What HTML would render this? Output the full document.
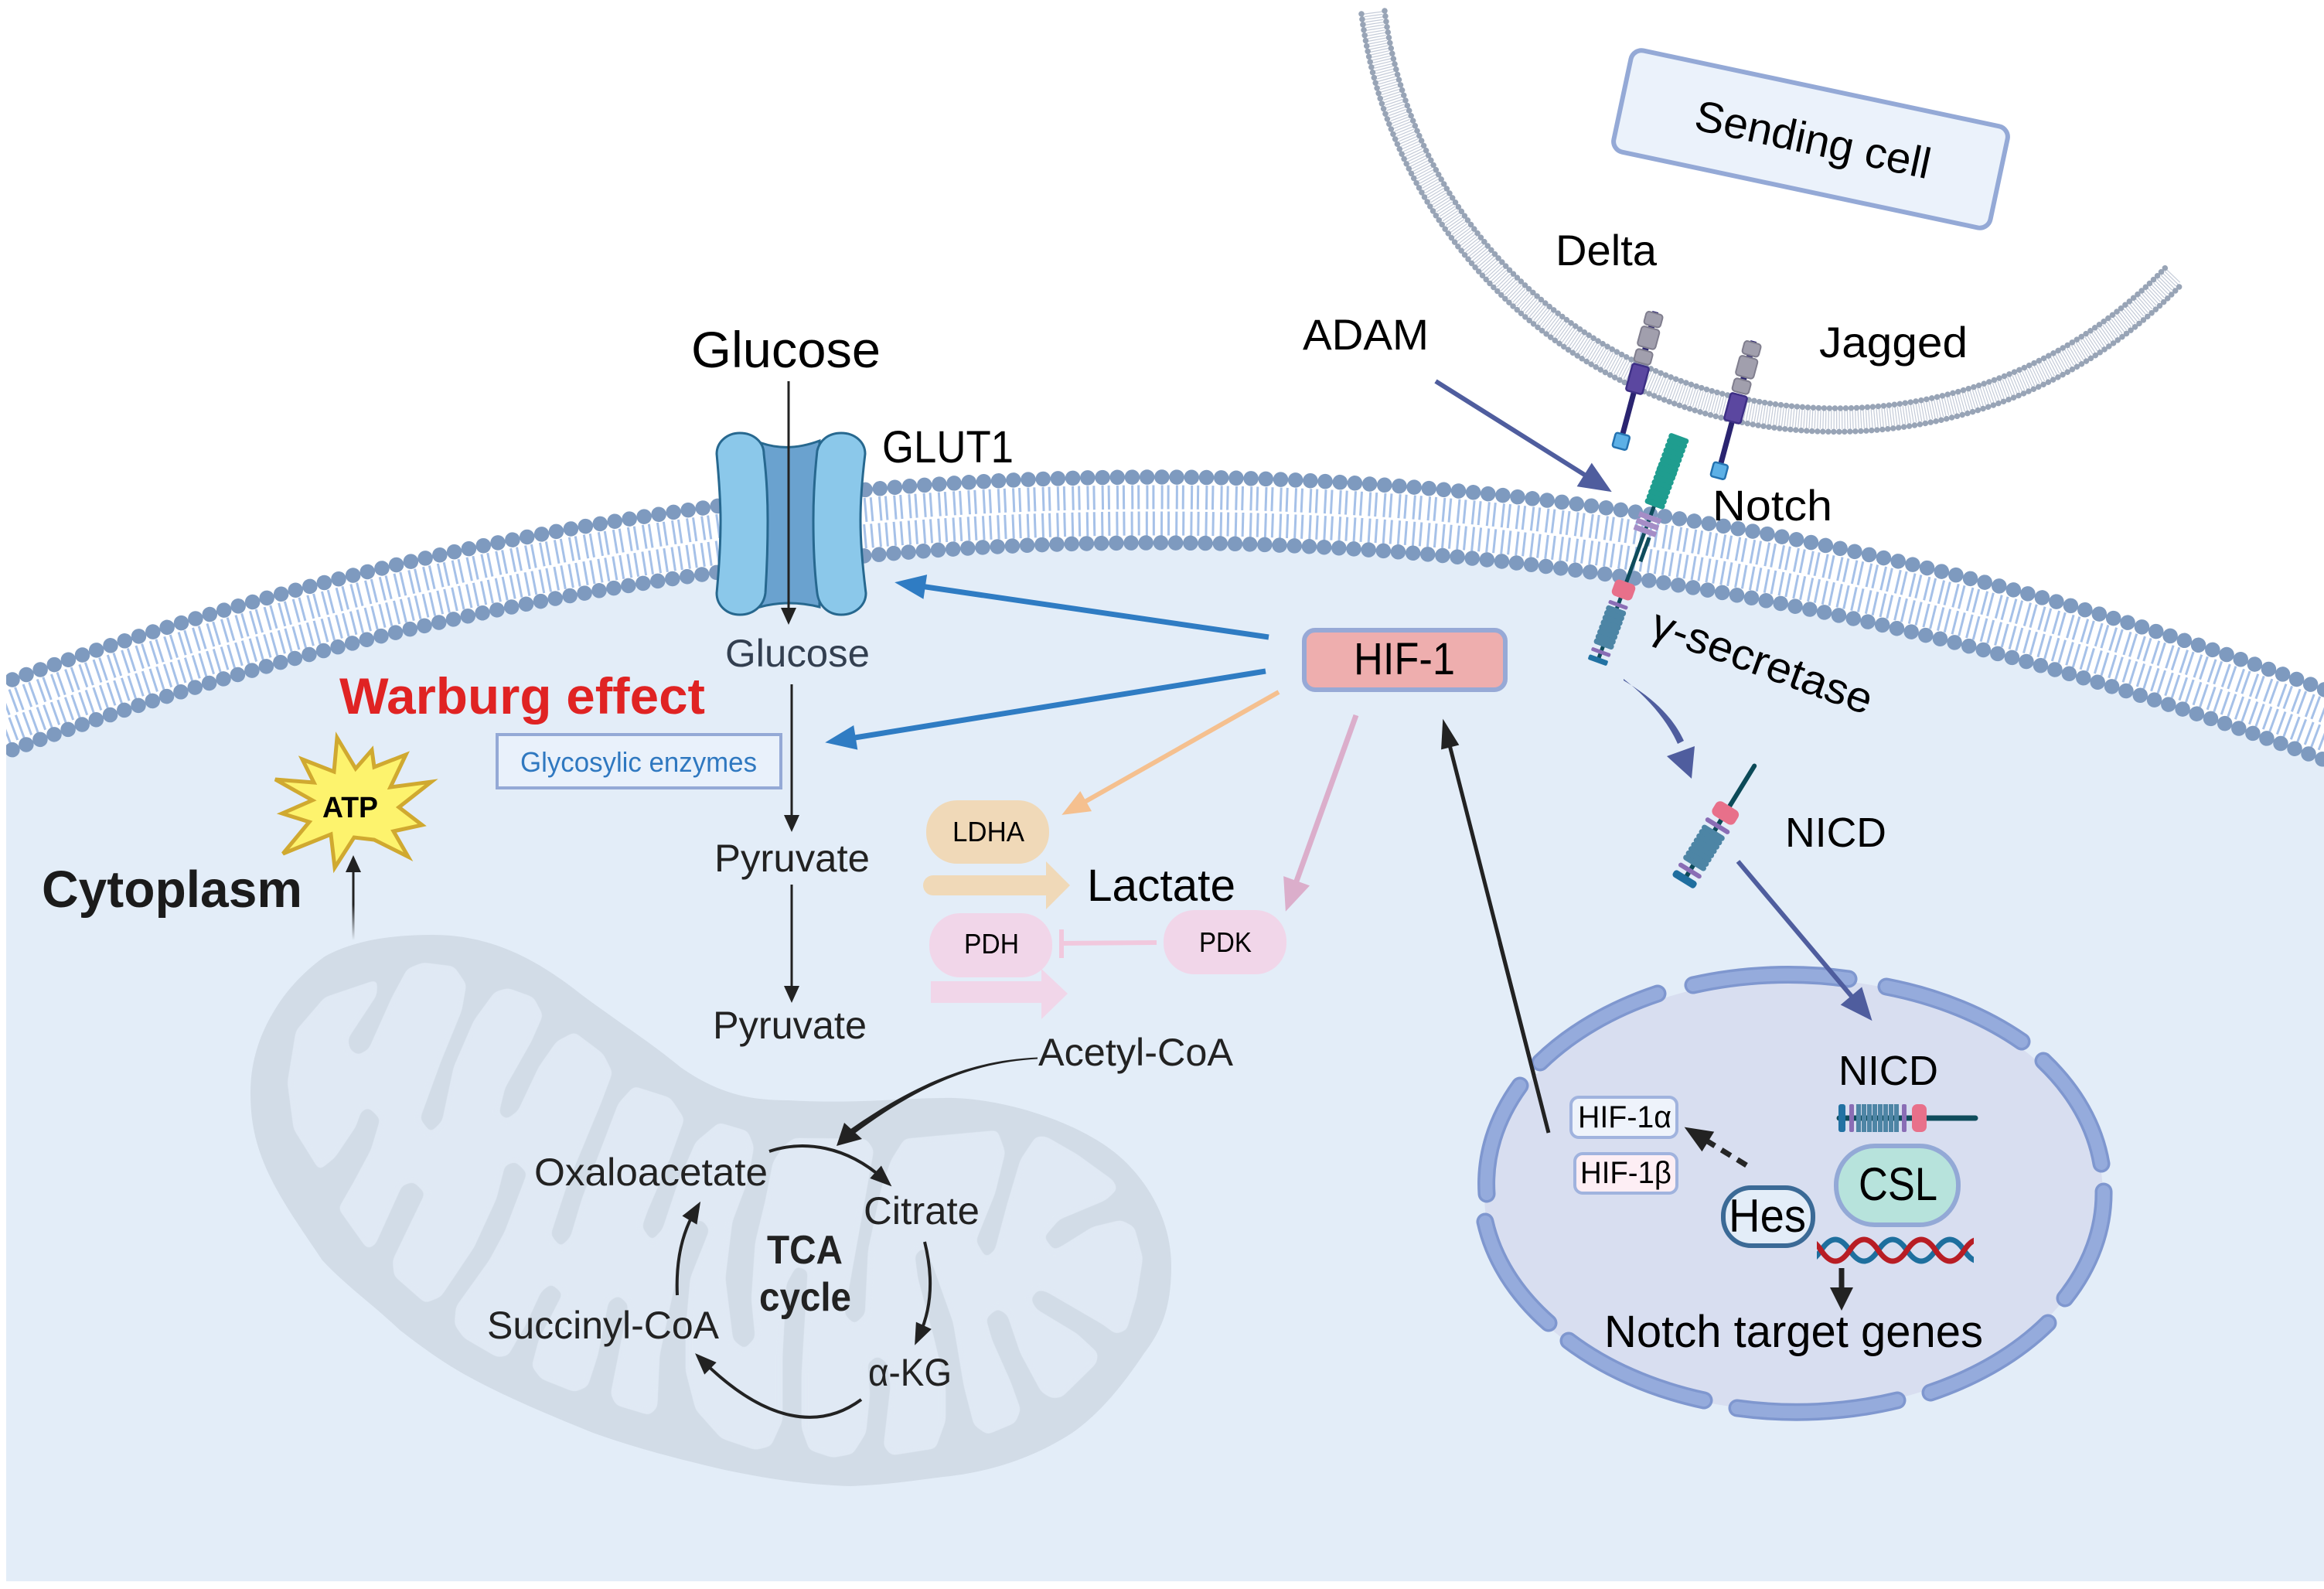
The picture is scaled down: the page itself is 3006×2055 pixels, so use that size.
<!DOCTYPE html>
<html lang="en">
<head>
<meta charset="utf-8">
<title>Warburg effect and Notch signalling</title>
<style>
html,body{margin:0;padding:0;background:#fff}
svg{display:block}
text{font-family:"Liberation Sans",sans-serif;fill:#000}
.seg path{fill:none;stroke-linecap:round}
</style>
</head>
<body>
<svg xmlns="http://www.w3.org/2000/svg" width="3006" height="2055" viewBox="0 0 3006 2055">
<defs>
<clipPath id="page"><rect x="8" y="0" width="2998" height="2055"/></clipPath>
<clipPath id="dna"><rect x="2350" y="1590" width="203" height="50"/></clipPath>
<linearGradient id="fade" gradientUnits="userSpaceOnUse" x1="457" y1="1216" x2="457" y2="1170"><stop offset="0" stop-color="#222" stop-opacity="0"/><stop offset="1" stop-color="#222"/></linearGradient>
<filter id="smooth" x="-5%" y="-5%" width="110%" height="110%" color-interpolation-filters="sRGB">
  <feGaussianBlur stdDeviation="4"/>
  <feComponentTransfer><feFuncA type="linear" slope="9" intercept="-3.7"/></feComponentTransfer>
</filter>
<marker id="mBlue" markerUnits="userSpaceOnUse" markerWidth="40" markerHeight="32" refX="20" refY="16" orient="auto" overflow="visible"><path d="M0 0L40 16L0 32Z" fill="#2f7cc3"/></marker>
<marker id="mOrange" markerUnits="userSpaceOnUse" markerWidth="36" markerHeight="30" refX="18" refY="15" orient="auto" overflow="visible"><path d="M0 0L36 15L0 30Z" fill="#f5c08f"/></marker>
<marker id="mPink" markerUnits="userSpaceOnUse" markerWidth="42" markerHeight="36" refX="21" refY="18" orient="auto" overflow="visible"><path d="M0 0L42 18L0 36Z" fill="#dbaecb"/></marker>
<marker id="mBlack" markerUnits="userSpaceOnUse" markerWidth="38" markerHeight="24" refX="19" refY="12" orient="auto" overflow="visible"><path d="M0 0L38 12L0 24Z" fill="#222"/></marker>
<marker id="mIndigo" markerUnits="userSpaceOnUse" markerWidth="42" markerHeight="36" refX="21" refY="18" orient="auto" overflow="visible"><path d="M0 0L42 18L0 36Z" fill="#4f5d9e"/></marker>
<marker id="mSmall" markerUnits="userSpaceOnUse" markerWidth="28" markerHeight="22" refX="14" refY="11" orient="auto" overflow="visible"><path d="M0 0L28 11L0 22Z" fill="#222"/></marker>
<marker id="mVert" markerUnits="userSpaceOnUse" markerWidth="22" markerHeight="20" refX="11" refY="10" orient="auto" overflow="visible"><path d="M0 0L22 10L0 20Z" fill="#222"/></marker>
<marker id="mBig" markerUnits="userSpaceOnUse" markerWidth="36" markerHeight="30" refX="18" refY="15" orient="auto" overflow="visible"><path d="M0 0L36 15L0 30Z" fill="#222"/></marker>
<marker id="mThick" markerUnits="userSpaceOnUse" markerWidth="30" markerHeight="30" refX="15" refY="15" orient="auto" overflow="visible"><path d="M0 0L30 15L0 30Z" fill="#222"/></marker>
<g id="ligand">
  <rect x="-4" y="-90" width="8" height="70" fill="#2a2470"/>
  <rect x="-11" y="-88" width="22" height="17" rx="4" fill="#a19fad" stroke="#807e8e" stroke-width="2"/>
  <rect x="-12" y="-68" width="24" height="26" rx="4" fill="#a19fad" stroke="#807e8e" stroke-width="2"/>
  <rect x="-11" y="-38" width="22" height="17" rx="4" fill="#a19fad" stroke="#807e8e" stroke-width="2"/>
  <line x1="0" y1="15" x2="0" y2="76" stroke="#2a2470" stroke-width="7"/>
  <rect x="-11" y="-18" width="22" height="36" rx="3" fill="#5b47a0" stroke="#3d2f85" stroke-width="2.5"/>
  <rect x="-9" y="74" width="19" height="19" rx="3" fill="#5cb0e6" stroke="#2372b0" stroke-width="2.5"/>
</g>
<g id="r8">
  <rect x="-15" y="0" width="30" height="7.5" rx="3.5"/>
  <rect x="-15" y="6.5" width="30" height="7.5" rx="3.5"/>
  <rect x="-15" y="13" width="30" height="7.5" rx="3.5"/>
  <rect x="-15" y="19.5" width="30" height="7.5" rx="3.5"/>
  <rect x="-15" y="26" width="30" height="7.5" rx="3.5"/>
  <rect x="-15" y="32.5" width="30" height="7.5" rx="3.5"/>
  <rect x="-15" y="39" width="30" height="7.5" rx="3.5"/>
  <rect x="-15" y="45.5" width="30" height="7.5" rx="3.5"/>
</g>
</defs>

<rect width="3006" height="2055" fill="#fff"/>

<!-- sending cell membrane -->
<g fill="none">
  <path d="M1776 16A604 604 0 0 0 2812 356" stroke="#c4cbd8" stroke-width="24" stroke-dasharray="1.2 2.3"/>
  <path d="M1761 18A619 619 0 0 0 2822.5 367" stroke="#98a4b6" stroke-width="7.5" stroke-linecap="round" stroke-dasharray="0.01 7"/>
  <path d="M1791 14A589 589 0 0 0 2801 346" stroke="#98a4b6" stroke-width="7.5" stroke-linecap="round" stroke-dasharray="0.01 7"/>
</g>

<!-- cell body -->
<path d="M8 972.6A4215 4215 0 0 1 3006 982.6L3006 2045L8 2045Z" fill="#e3edf8"/>

<!-- plasma membrane -->
<g clip-path="url(#page)" fill="none">
  <path d="M-20 920.1A4274 4274 0 0 1 3030 928.5" stroke="#a6c1e8" stroke-width="31" stroke-dasharray="3 5 3 8.2"/>
  <path d="M-20 956.5A4240 4240 0 0 1 3030 965" stroke="#a6c1e8" stroke-width="31" stroke-dasharray="3 6 3 7.2"/>
  <path d="M-20 892.4A4300 4300 0 0 1 3030 900.7" stroke="#7e9abf" stroke-width="19.5" stroke-linecap="round" stroke-dasharray="0.01 19.2"/>
  <path d="M-20 983.3A4215 4215 0 0 1 3030 991.9" stroke="#7e9abf" stroke-width="19.5" stroke-linecap="round" stroke-dasharray="0.01 19.2"/>
</g>

<!-- mitochondrion -->
<path d="M560 1209C640 1209 700 1245 753 1287C800 1322 840 1347 880 1380C930 1415 970 1423 1020 1423C1100 1428 1170 1420 1220 1420C1290 1418 1400 1450 1453 1500C1495 1540 1515 1590 1515 1637C1515 1690 1503 1720 1480 1750C1450 1795 1420 1830 1387 1853C1330 1890 1270 1905 1220 1910C1180 1915 1150 1920 1100 1922C1040 1920 990 1912 933 1900C870 1885 820 1872 767 1853C710 1830 650 1805 600 1777C570 1760 540 1738 517 1720C480 1685 450 1665 417 1630C390 1590 365 1555 347 1517C330 1480 324 1450 324 1413C324 1375 335 1340 353 1310C370 1280 395 1255 420 1237C460 1215 510 1209 560 1209Z" fill="#d2dce7"/>
<polygon filter="url(#smooth)" fill="#e0e9f4" points="488,1267 487,1287 450,1343 452,1357 463,1365 477,1357 507,1290 527,1253 547,1245 587,1250 603,1273 597,1307 570,1373 543,1447 557,1465 572,1450 587,1380 613,1320 640,1283 657,1278 690,1290 702,1313 687,1347 653,1407 645,1440 655,1448 670,1437 697,1380 720,1347 743,1335 780,1363 792,1387 777,1427 733,1533 712,1597 725,1613 738,1600 753,1550 800,1427 820,1405 867,1420 885,1447 867,1497 837,1567 830,1587 843,1605 857,1590 877,1530 900,1477 930,1452 967,1463 975,1483 967,1527 947,1580 938,1653 948,1733 963,1745 977,1730 972,1680 977,1607 990,1553 1000,1503 1013,1483 1027,1472 1120,1473 1130,1487 1120,1543 1102,1643 1092,1700 1105,1713 1119,1700 1123,1617 1140,1537 1153,1500 1170,1473 1290,1462 1300,1490 1287,1543 1262,1605 1275,1627 1287,1617 1303,1557 1320,1500 1340,1470 1353,1470 1393,1493 1440,1527 1445,1538 1430,1552 1370,1577 1350,1600 1363,1617 1373,1612 1413,1587 1450,1578 1467,1587 1478,1627 1470,1677 1457,1720 1443,1725 1427,1713 1353,1670 1342,1668 1333,1680 1340,1693 1393,1725 1420,1750 1418,1763 1373,1807 1360,1808 1347,1800 1320,1750 1303,1700 1290,1692 1275,1705 1283,1733 1307,1787 1320,1823 1313,1840 1277,1855 1260,1843 1247,1793 1233,1710 1207,1637 1195,1612 1183,1623 1187,1653 1207,1727 1223,1793 1223,1837 1210,1873 1153,1882 1143,1870 1152,1793 1148,1763 1135,1753 1122,1763 1125,1803 1120,1853 1103,1880 1077,1885 1047,1875 1037,1847 1037,1777 1045,1643 1030,1637 1017,1660 1012,1753 1012,1837 997,1870 977,1875 933,1860 900,1823 887,1773 887,1720 893,1653 918,1590 908,1577 890,1583 867,1687 853,1753 850,1820 840,1830 797,1817 790,1803 800,1753 813,1687 800,1675 787,1683 773,1753 760,1793 743,1800 700,1783 688,1767 697,1733 728,1673 713,1660 700,1670 680,1713 657,1753 643,1755 600,1730 588,1713 590,1690 633,1630 653,1593 682,1517 667,1502 653,1507 642,1550 613,1613 570,1677 550,1685 510,1650 508,1630 550,1543 535,1528 520,1533 485,1610 475,1615 438,1563 457,1530 480,1487 492,1447 477,1432 467,1437 460,1457 433,1497 413,1513 380,1460 372,1400 383,1333 420,1290"/>

<!-- GLUT1 -->
<path d="M985 573Q1020 585 1060 570L1060 785Q1020 775 983 785Z" fill="#6aa2cf" stroke="#27688f" stroke-width="3"/>
<path d="M957 560C975 560 988 572 988 587C992 620 993 650 993 673C993 700 992 735 990 767C988 783 975 795 957 795C940 795 927 783 927 767C930 735 932 700 932 673C932 650 930 620 927 587C927 572 940 560 957 560Z" fill="#8bc8ea" stroke="#27688f" stroke-width="3"/>
<path d="M1088 560C1106 560 1119 572 1119 587C1115 620 1113 650 1113 673C1113 700 1116 735 1120 767C1120 783 1106 795 1088 795C1071 795 1059 783 1057 767C1053 735 1052 700 1052 673C1052 650 1053 620 1057 583C1060 570 1071 560 1088 560Z" fill="#8bc8ea" stroke="#27688f" stroke-width="3"/>

<!-- black vertical arrows -->
<g fill="none" stroke="#222" stroke-width="3">
  <path d="M1020 493V797" marker-end="url(#mVert)"/>
  <path d="M1024 885V1065" marker-end="url(#mVert)"/>
  <path d="M1024 1144V1286" marker-end="url(#mVert)"/>
  <path d="M457 1170V1117" marker-end="url(#mVert)"/>
</g>
<rect x="455.5" y="1168" width="3" height="48" fill="url(#fade)"/>

<!-- ATP star -->
<polygon points="436,954 460,994 481,970 484,992 525,976 505,1018 558,1011 516,1044 546,1067 509,1075 528,1108 484,1086 458,1083 433,1122 428,1079 366,1104 400,1063 365,1052 404,1035 356,1008 406,1012 391,982 432,998" fill="#fdf36d" stroke="#d0a930" stroke-width="5"/>

<!-- Glycosylic box -->
<rect x="643" y="950" width="367" height="69" fill="#e9f1fb" stroke="#94a9d6" stroke-width="4"/>

<!-- HIF arrows -->
<g fill="none">
  <path d="M1641 824L1177 756" stroke="#2f7cc3" stroke-width="7" marker-end="url(#mBlue)"/>
  <path d="M1637 868L1087 957" stroke="#2f7cc3" stroke-width="7" marker-end="url(#mBlue)"/>
  <path d="M1654 895L1389 1045" stroke="#f5c08f" stroke-width="6" marker-end="url(#mOrange)"/>
  <path d="M1754 925L1670 1159" stroke="#dbaecb" stroke-width="7" marker-end="url(#mPink)"/>
  <path d="M2003 1465L1871 948" stroke="#222" stroke-width="5" marker-end="url(#mBlack)"/>
</g>

<!-- enzymes -->
<rect x="1198" y="1035" width="159" height="82" rx="40" fill="#f0d9b8"/>
<path d="M1207 1132H1353V1114L1384 1145L1353 1176V1158H1207A13 13 0 0 1 1207 1132Z" fill="#f0d9b8"/>
<rect x="1202" y="1181" width="159" height="83" rx="40" fill="#f1d6e9"/>
<path d="M1204 1269H1347V1253L1381 1285L1347 1318V1297H1204Z" fill="#f1d6e9"/>
<rect x="1505" y="1177" width="159" height="83" rx="40" fill="#f1d6e9"/>
<path d="M1496 1219L1373 1220M1373 1202V1239" fill="none" stroke="#f1c8dd" stroke-width="6"/>

<!-- HIF-1 -->
<rect x="1687" y="815" width="260" height="77" rx="14" fill="#eeaeae" stroke="#97a9d6" stroke-width="6"/>

<!-- TCA arrows -->
<path d="M1342 1367.5C1265 1371 1195 1394 1099 1461L1104 1467C1196 1398 1266 1374 1342 1369.5Z" fill="#222"/>
<polygon points="1082,1482 1092,1452 1115,1473" fill="#222"/>
<g fill="none" stroke="#222" stroke-width="4">
  <path d="M995 1489C1040 1474 1095 1482 1143 1525" marker-end="url(#mSmall)"/>
  <path d="M1196 1606C1207 1650 1206 1690 1189 1727" marker-end="url(#mSmall)"/>
  <path d="M1114 1810C1060 1850 990 1840 909 1760" marker-end="url(#mSmall)"/>
  <path d="M876 1675C874 1630 882 1595 899 1566" marker-end="url(#mSmall)"/>
</g>

<!-- Sending cell box -->
<g transform="rotate(12 2342 180)">
  <rect x="2093" y="113" width="498" height="134" rx="14" fill="#ebf2fb" stroke="#94a9d6" stroke-width="6"/>
  <text x="2190" y="199" font-size="56" textLength="310" lengthAdjust="spacingAndGlyphs">Sending cell</text>
</g>

<!-- Delta / Jagged -->
<use href="#ligand" transform="translate(2118 490) rotate(15)"/>
<use href="#ligand" transform="translate(2245 528) rotate(15)"/>

<!-- ADAM arrow -->
<path d="M1857 493L2067 625" fill="none" stroke="#4f5d9e" stroke-width="6" marker-end="url(#mIndigo)"/>

<!-- Notch on membrane -->
<g transform="translate(2100 763) rotate(20)">
  <line x1="0" y1="0" x2="0" y2="-115" stroke="#0f4c5c" stroke-width="5"/>
  <line x1="8" y1="-75" x2="8" y2="-42" stroke="#0f4c5c" stroke-width="5"/>
  <line x1="0" y1="0" x2="0" y2="96" stroke="#0f4c5c" stroke-width="5"/>
  <use href="#r8" fill="#1f9d8f" transform="translate(0 -212) scale(.9 1)"/>
  <use href="#r8" fill="#1f9d8f" transform="translate(0 -168) scale(.9 1)"/>
  <rect x="-15" y="-103" width="30" height="7" fill="#a58dc6"/>
  <rect x="-15" y="-94" width="30" height="7" fill="#a58dc6"/>
  <rect x="-15" y="-85" width="30" height="7" fill="#a58dc6"/>
  <rect x="-14" y="-11" width="28" height="22" rx="6" fill="#e8708a"/>
  <rect x="-13" y="18" width="26" height="5" rx="2" fill="#8a6db5"/>
  <use href="#r8" fill="#4d85a5" transform="translate(0 25) scale(.9 1)"/>
  <rect x="-13" y="83" width="26" height="5" rx="2" fill="#8a6db5"/>
  <rect x="-13" y="93" width="26" height="7" rx="2" fill="#2272a3"/>
</g>

<!-- gamma arrow -->
<path d="M2100 878C2135 905 2158 935 2170 962L2178 958C2165 930 2142 905 2100 880Z" fill="#4f5d9e"/>
<polygon points="2156,978 2192,965 2188,1007" fill="#4f5d9e"/>

<!-- NICD in cytoplasm -->
<g transform="translate(2232 1051) rotate(31.6)">
  <line x1="0" y1="-71" x2="0" y2="98" stroke="#0c4a58" stroke-width="6" stroke-linecap="round"/>
  <rect x="-17" y="-10" width="34" height="21" rx="7" fill="#e8708a"/>
  <rect x="-18" y="17" width="36" height="6" rx="3" fill="#8a6db5"/>
  <use href="#r8" fill="#4d85a5" transform="translate(0 27) scale(1.12 1)"/>
  <rect x="-17" y="85" width="34" height="6" rx="3" fill="#8a6db5"/>
  <rect x="-17" y="96" width="34" height="10" rx="4" fill="#1f6e9f"/>
</g>

<!-- Nucleus -->
<ellipse cx="2320" cy="1545" rx="400" ry="280" fill="#d8def0"/>
<g class="seg" stroke="#7f97cf" stroke-width="23">
  <path d="M2190 1274A400 280 0 0 1 2391 1266"/>
  <path d="M2440 1276A400 280 0 0 1 2615 1347"/>
  <path d="M2643 1372A400 280 0 0 1 2718 1505"/>
  <path d="M2721 1541A400 280 0 0 1 2671 1679"/>
  <path d="M2649 1711A400 280 0 0 1 2497 1801"/>
  <path d="M2454 1811A400 280 0 0 1 2247 1821"/>
  <path d="M2204 1811A400 280 0 0 1 2029 1734"/>
  <path d="M2003 1711A400 280 0 0 1 1921 1580"/>
  <path d="M1923 1544A400 280 0 0 1 1966 1404"/>
  <path d="M1992 1374A400 280 0 0 1 2144 1285"/>
</g>
<g class="seg" stroke="#95abdc" stroke-width="16">
  <path d="M2190 1274A400 280 0 0 1 2391 1266"/>
  <path d="M2440 1276A400 280 0 0 1 2615 1347"/>
  <path d="M2643 1372A400 280 0 0 1 2718 1505"/>
  <path d="M2721 1541A400 280 0 0 1 2671 1679"/>
  <path d="M2649 1711A400 280 0 0 1 2497 1801"/>
  <path d="M2454 1811A400 280 0 0 1 2247 1821"/>
  <path d="M2204 1811A400 280 0 0 1 2029 1734"/>
  <path d="M2003 1711A400 280 0 0 1 1921 1580"/>
  <path d="M1923 1544A400 280 0 0 1 1966 1404"/>
  <path d="M1992 1374A400 280 0 0 1 2144 1285"/>
</g>

<!-- black line over nucleus edge and NICD arrow -->
<path d="M2003 1465L1940 1219" fill="none" stroke="#222" stroke-width="5"/>
<path d="M2248 1114L2408 1304" fill="none" stroke="#4f5d9e" stroke-width="6" marker-end="url(#mIndigo)"/>

<!-- NICD bar in nucleus -->
<line x1="2379" y1="1446" x2="2555" y2="1446" stroke="#0f4c5c" stroke-width="7" stroke-linecap="round"/>
<rect x="2378" y="1428" width="9" height="36" rx="3" fill="#2272a3"/>
<rect x="2392" y="1428" width="6" height="36" rx="2" fill="#8a6db5"/>
<line x1="2401" y1="1446" x2="2457" y2="1446" stroke="#4e85a5" stroke-width="36" stroke-dasharray="6 1"/>
<rect x="2460" y="1428" width="6" height="36" rx="2" fill="#8a6db5"/>
<rect x="2473" y="1428" width="19" height="36" rx="7" fill="#e8708a"/>

<!-- CSL / Hes / HIF boxes -->
<rect x="2375" y="1482" width="158" height="102" rx="50" fill="#b7e3dc" stroke="#93a9d6" stroke-width="6"/>
<rect x="2229" y="1536" width="116" height="75" rx="36" fill="#e3edf8" stroke="#3b6a96" stroke-width="6"/>
<rect x="2032" y="1419" width="137" height="52" rx="10" fill="#eef3fb" stroke="#a0b3de" stroke-width="4"/>
<rect x="2037" y="1492" width="132" height="51" rx="10" fill="#fdeef4" stroke="#a0b3de" stroke-width="4"/>

<!-- dash arrow -->
<path d="M2259 1507L2194 1467" fill="none" stroke="#262626" stroke-width="7" stroke-dasharray="14 10" marker-end="url(#mBig)"/>

<!-- DNA -->
<g clip-path="url(#dna)" fill="none" stroke-width="7">
  <path d="M2318.5 1617q18.5 28 37 0t37 0t37 0t37 0t37 0t37 0t37 0" stroke="#1e6f9e"/>
  <path d="M2318.5 1617q18.5 -28 37 0t37 0t37 0t37 0t37 0t37 0t37 0" stroke="#b81d24"/>
</g>
<path d="M2382 1640V1680" fill="none" stroke="#222" stroke-width="7" marker-end="url(#mThick)"/>

<!-- labels -->
<g transform="translate(-1 0)">
  <text x="895" y="475" font-size="66" textLength="245" lengthAdjust="spacingAndGlyphs">Glucose</text>
  <text x="1142" y="598" font-size="58" textLength="170" lengthAdjust="spacingAndGlyphs">GLUT1</text>
  <text x="939" y="862" font-size="50" textLength="187" lengthAdjust="spacingAndGlyphs" style="fill:#333f50">Glucose</text>
  <text x="440" y="923" font-size="66" font-weight="700" textLength="473" lengthAdjust="spacingAndGlyphs" style="fill:#e02323">Warburg effect</text>
  <text x="674" y="998" font-size="36" textLength="306" lengthAdjust="spacingAndGlyphs" style="fill:#2f78c0">Glycosylic enzymes</text>
  <text x="418" y="1057" font-size="38" font-weight="700" textLength="72" lengthAdjust="spacingAndGlyphs">ATP</text>
  <text x="55" y="1173" font-size="67" font-weight="700" textLength="337" lengthAdjust="spacingAndGlyphs" style="fill:#1b1b1b">Cytoplasm</text>
  <text x="925" y="1127" font-size="50" textLength="201" lengthAdjust="spacingAndGlyphs" style="fill:#222">Pyruvate</text>
  <text x="923" y="1343" font-size="50" textLength="199" lengthAdjust="spacingAndGlyphs" style="fill:#222">Pyruvate</text>
  <text x="1344" y="1378" font-size="50" textLength="252" lengthAdjust="spacingAndGlyphs" style="fill:#222">Acetyl-CoA</text>
  <text x="692" y="1533" font-size="50" textLength="302" lengthAdjust="spacingAndGlyphs" style="fill:#222">Oxaloacetate</text>
  <text x="1118" y="1583" font-size="50" textLength="150" lengthAdjust="spacingAndGlyphs" style="fill:#222">Citrate</text>
  <text x="631" y="1731" font-size="50" textLength="300" lengthAdjust="spacingAndGlyphs" style="fill:#222">Succinyl-CoA</text>
  <text x="1124" y="1792" font-size="50" textLength="108" lengthAdjust="spacingAndGlyphs" style="fill:#222">α-KG</text>
  <text x="993" y="1634" font-size="52" font-weight="700" textLength="98" lengthAdjust="spacingAndGlyphs" style="fill:#222">TCA</text>
  <text x="983" y="1695" font-size="52" font-weight="700" textLength="119" lengthAdjust="spacingAndGlyphs" style="fill:#222">cycle</text>
  <text x="1752" y="872" font-size="58" textLength="131" lengthAdjust="spacingAndGlyphs">HIF-1</text>
  <text x="1233" y="1088" font-size="36" textLength="93" lengthAdjust="spacingAndGlyphs">LDHA</text>
  <text x="1407" y="1165" font-size="58" textLength="192" lengthAdjust="spacingAndGlyphs">Lactate</text>
  <text x="1248" y="1233" font-size="36" textLength="71" lengthAdjust="spacingAndGlyphs">PDH</text>
  <text x="1552" y="1231" font-size="36" textLength="68" lengthAdjust="spacingAndGlyphs">PDK</text>
  <text x="2013" y="343" font-size="56" textLength="131" lengthAdjust="spacingAndGlyphs">Delta</text>
  <text x="2354" y="462" font-size="56" textLength="192" lengthAdjust="spacingAndGlyphs">Jagged</text>
  <text x="1686" y="452" font-size="56" textLength="163" lengthAdjust="spacingAndGlyphs">ADAM</text>
  <text x="2216" y="673" font-size="56" textLength="155" lengthAdjust="spacingAndGlyphs">Notch</text>
  <text x="2133" y="822" font-size="56" textLength="300" lengthAdjust="spacingAndGlyphs" transform="rotate(20 2133 822)">γ-secretase</text>
  <text x="2310" y="1095" font-size="54" textLength="131" lengthAdjust="spacingAndGlyphs">NICD</text>
  <text x="2379" y="1403" font-size="54" textLength="129" lengthAdjust="spacingAndGlyphs">NICD</text>
  <text x="2405" y="1552" font-size="60" textLength="102" lengthAdjust="spacingAndGlyphs">CSL</text>
  <text x="2237" y="1593" font-size="60" textLength="100" lengthAdjust="spacingAndGlyphs">Hes</text>
  <text x="2042" y="1458" font-size="40" textLength="121" lengthAdjust="spacingAndGlyphs">HIF-1α</text>
  <text x="2045" y="1530" font-size="40" textLength="118" lengthAdjust="spacingAndGlyphs">HIF-1β</text>
  <text x="2076" y="1742" font-size="58" textLength="490" lengthAdjust="spacingAndGlyphs">Notch target genes</text>
</g>
</svg>
</body>
</html>
